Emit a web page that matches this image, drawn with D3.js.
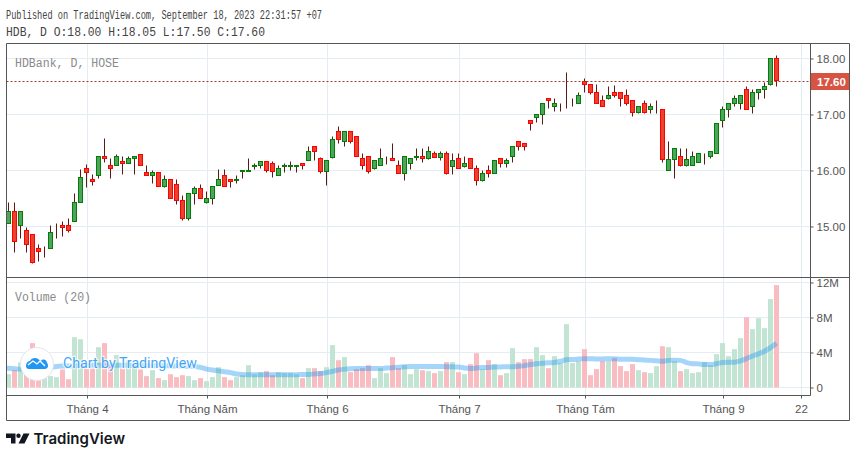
<!DOCTYPE html>
<html lang="en">
<head>
<meta charset="UTF-8">
<title>HDB, D</title>
<script src="https://d3js.org/d3.v7.min.js"></script>
<style>
  html, body { margin: 0; padding: 0; background: #fff; }
  svg { display: block; }
  .mono { font-family: "Liberation Mono", monospace; font-size: 12.5px; }
  .axis text { font-family: "Liberation Sans", Arial, sans-serif; font-size: 11.5px; fill: #555; }
  .axis line { stroke: #555; }
  .axis path { display: none; }
  .grid line { stroke: #e4edf4; }
  .frame { stroke: #555; fill: none; }
</style>
</head>
<body>
<script>

// daily candles, oldest first
var opens = [
  15.05,15.27,15.02,14.93,14.86,14.61,14.55,14.61,15.01,15.02,15.02,15.09,15.43,16.04,15.84,15.91,16.25,16.09,16.09,16.16,
  16.13,16.21,16.29,15.96,15.91,15.96,15.71,15.84,15.75,15.46,15.14,15.59,15.68,15.43,15.50,15.74,15.91,15.84,15.83,15.99,
  15.99,16.08,16.09,16.16,16.13,15.91,16.08,16.08,16.08,16.13,16.18,16.43,16.21,15.99,16.24,16.70,16.51,16.70,16.61,16.21,
  16.25,16.04,16.09,16.21,16.21,16.09,15.94,16.13,16.24,16.25,16.21,16.30,16.24,16.30,16.08,16.21,16.08,16.21,16.04,15.82,
  16.00,15.95,16.21,16.13,16.25,16.52,16.48,16.89,16.95,17.00,17.29,17.14,17.19,17.19,17.25,17.20,17.59,17.54,17.39,17.25,
  17.29,17.39,17.39,17.34,17.25,17.04,17.20,17.09,17.14,17.09,16.00,16.20,16.25,16.09,16.09,16.14,16.19,16.25,16.30,16.89,
  17.09,17.20,17.20,17.45,17.14,17.39,17.45,17.54,18.00
];
var highs = [
  15.43,15.43,15.27,14.98,14.86,14.68,14.65,15.02,15.06,15.09,15.15,15.59,16.01,16.10,15.92,16.25,16.58,16.21,16.29,16.25,
  16.25,16.25,16.29,16.09,16.00,15.96,15.91,15.84,15.84,15.55,15.59,15.71,15.75,15.63,15.71,16.01,16.01,15.84,15.91,16.00,
  16.22,16.13,16.16,16.16,16.16,16.09,16.13,16.16,16.09,16.13,16.43,16.43,16.24,16.18,16.61,16.79,16.70,16.70,16.61,16.30,
  16.25,16.18,16.40,16.25,16.49,16.18,16.25,16.21,16.39,16.39,16.43,16.34,16.34,16.34,16.30,16.30,16.25,16.21,16.09,16.00,
  16.09,16.18,16.21,16.21,16.43,16.52,16.48,16.89,17.00,17.20,17.29,17.29,17.20,17.75,17.29,17.39,17.64,17.54,17.54,17.34,
  17.50,17.51,17.39,17.45,17.25,17.14,17.25,17.20,17.25,17.09,16.51,16.39,16.39,16.39,16.34,16.30,16.30,16.34,16.84,17.14,
  17.20,17.34,17.34,17.50,17.45,17.45,17.58,18.00,18.05
];
var lows = [
  15.05,14.53,14.78,14.53,14.34,14.37,14.45,14.61,14.78,14.82,14.90,15.09,15.43,15.69,15.73,15.85,16.14,15.85,16.09,15.92,
  16.13,15.92,16.09,15.91,15.76,15.71,15.69,15.50,15.40,15.10,15.10,15.40,15.50,15.41,15.40,15.73,15.71,15.69,15.76,15.85,
  15.99,16.01,16.04,15.97,15.88,15.91,15.97,16.00,15.97,16.01,16.18,16.18,15.95,15.74,16.22,16.49,16.43,16.49,16.25,16.01,
  15.95,16.01,16.09,16.10,16.18,15.95,15.83,16.01,16.18,16.14,16.19,16.23,16.18,15.92,15.92,16.04,16.05,16.04,15.74,15.80,
  15.88,15.95,16.05,16.05,16.14,16.35,16.35,16.71,16.85,16.82,17.10,17.05,17.05,17.10,17.15,17.20,17.40,17.35,17.20,17.14,
  17.27,17.30,17.15,17.16,16.96,17.01,17.01,17.01,17.01,16.15,16.00,15.85,16.07,16.07,16.09,16.14,16.10,16.21,16.30,16.76,
  16.95,17.15,17.09,17.09,17.01,17.26,17.29,17.51,17.50
];
var closes = [
  15.27,14.73,15.27,14.68,14.36,14.55,14.55,14.89,15.02,14.98,14.93,15.43,15.88,15.96,15.80,16.25,16.21,16.04,16.25,16.13,
  16.21,16.25,16.09,15.91,15.96,15.71,15.84,15.50,15.46,15.14,15.59,15.68,15.50,15.50,15.71,15.84,15.71,15.80,15.84,16.00,
  16.00,16.09,16.16,16.00,15.99,16.04,16.09,16.09,16.09,16.09,16.34,16.34,15.99,16.18,16.55,16.55,16.70,16.52,16.25,16.09,
  15.99,16.18,16.21,16.21,16.18,15.95,16.25,16.21,16.25,16.21,16.34,16.24,16.30,15.94,16.18,16.04,16.13,16.04,15.82,15.95,
  15.95,16.18,16.13,16.18,16.43,16.43,16.43,16.84,17.00,17.20,17.25,17.20,17.20,17.20,17.25,17.34,17.54,17.39,17.20,17.14,
  17.34,17.34,17.29,17.20,17.04,17.14,17.04,17.14,17.14,16.20,16.20,16.39,16.09,16.20,16.25,16.30,16.20,16.34,16.84,17.09,
  17.20,17.29,17.34,17.09,17.39,17.45,17.50,18.00,17.60
];
// volume in millions
var volumes = [
  1.52,1.98,2.86,2.40,5.07,2.20,1.40,1.30,1.18,2.06,0.95,5.75,5.52,2.17,2.17,4.61,5.07,2.67,3.70,2.17,
  3.10,2.70,2.06,1.30,1.98,1.07,0.84,1.52,1.18,1.41,1.30,0.84,1.07,0.72,1.18,2.32,1.18,0.84,1.18,1.41,
  2.55,1.52,1.75,1.87,1.41,1.75,1.64,1.64,1.52,1.07,2.21,2.21,1.87,2.32,4.84,3.12,3.47,1.75,2.10,2.21,
  2.55,1.07,2.21,1.64,3.47,2.21,2.55,1.52,2.10,1.98,1.87,1.64,1.87,2.90,2.90,1.75,1.52,2.67,3.92,2.10,
  3.12,2.67,1.41,1.64,4.50,2.90,3.24,3.24,4.61,3.70,2.21,3.58,2.79,7.24,2.79,3.01,4.38,1.41,2.10,3.01,
  3.01,3.36,2.44,1.87,2.67,1.98,1.75,1.64,2.44,4.72,4.61,3.01,1.87,2.10,1.64,1.75,2.90,2.55,3.81,5.07,
  3.58,4.38,5.64,8.04,6.67,7.92,6.78,10.10,11.70
];
// volume average, first value belongs to the bar just left of the pane
var volumeAvg = [
  2.25,2.20,2.15,2.10,2.10,2.15,2.20,2.25,2.35,2.40,2.45,2.45,2.45,2.50,2.50,2.55,2.55,2.55,2.55,2.55,2.55,
  2.55,2.50,2.50,2.50,2.50,2.50,2.50,2.45,2.45,2.45,2.40,2.40,2.30,2.10,2.00,1.90,1.80,1.70,1.55,1.49,
  1.47,1.47,1.47,1.47,1.47,1.47,1.47,1.47,1.47,1.50,1.50,1.55,1.60,1.70,1.85,2.00,2.10,2.15,2.17,2.17,
  2.17,2.17,2.17,2.22,2.27,2.32,2.38,2.40,2.40,2.40,2.40,2.40,2.40,2.38,2.36,2.35,2.22,2.17,2.22,2.30,
  2.30,2.33,2.35,2.38,2.38,2.42,2.50,2.62,2.72,2.76,2.82,2.86,3.00,3.18,3.20,3.25,3.30,3.30,3.25,3.25,
  3.30,3.30,3.24,3.22,3.22,3.18,3.14,3.10,3.05,3.00,3.10,3.12,3.10,2.85,2.72,2.70,2.63,2.63,2.72,2.86,
  2.90,2.90,3.05,3.30,3.60,3.85,4.15,4.55,5.05
];

var priceTicks = [15, 16, 17, 18];
var volumeTicks = [0, 4, 8, 12];
var monthIdx = [13, 33, 53, 75, 96, 119, 132];
var monthLabels = ["Tháng 4", "Tháng Năm", "Tháng 6", "Tháng 7", "Tháng Tám", "Tháng 9", "22"];
var lastClose = 17.60;

var width = 856, height = 457;
var left = 6.5, right = 810.5, outerRight = 849.5, top_ = 43.5, sep = 277.5, bottom = 395.5, outerBottom = 420.5;

var x = d3.scaleLinear().domain([0, 128]).range([8.5, 776.5]);
var yPrice = d3.scaleLinear().domain([18, 15]).range([58.5, 226.5]);
var yVol = d3.scaleLinear().domain([12, 0]).range([282.5, 387.5]);
// month lines sit one pixel right of their bar
var xTick = d3.scaleOrdinal().domain(monthIdx).range(monthIdx.map(function(i) { return x(i) + 1; }));

var svg = d3.select("body").append("svg")
    .attr("width", width)
    .attr("height", height);

var defs = svg.append("defs");
defs.append("clipPath").attr("id", "pricePane").append("rect")
    .attr("x", left).attr("y", top_).attr("width", right - left).attr("height", sep - top_);
defs.append("clipPath").attr("id", "volPane").append("rect")
    .attr("x", left).attr("y", sep).attr("width", right - left).attr("height", bottom - sep);

svg.append("text").attr("class", "mono").attr("x", 6).attr("y", 19)
    .attr("textLength", 316).attr("lengthAdjust", "spacingAndGlyphs")
    .attr("fill", "#444")
    .text("Published on TradingView.com, September 18, 2023 22:31:57 +07");
svg.append("text").attr("class", "mono").attr("x", 6).attr("y", 36)
    .attr("textLength", 259).attr("lengthAdjust", "spacingAndGlyphs")
    .attr("fill", "#444")
    .text("HDB, D O:18.00 H:18.05 L:17.50 C:17.60");

// grid
var grid = svg.append("g").attr("class", "grid");
grid.selectAll(".v").data(monthIdx).enter().append("line")
    .attr("x1", function(d) { return xTick(d); }).attr("x2", function(d) { return xTick(d); })
    .attr("y1", top_).attr("y2", bottom);
grid.selectAll(".p").data(priceTicks).enter().append("line")
    .attr("x1", left).attr("x2", right)
    .attr("y1", function(d) { return yPrice(d); }).attr("y2", function(d) { return yPrice(d); });
grid.selectAll(".w").data(volumeTicks).enter().append("line")
    .attr("x1", left).attr("x2", right)
    .attr("y1", function(d) { return yVol(d); }).attr("y2", function(d) { return yVol(d); });

svg.append("text").attr("class", "mono").attr("x", 15).attr("y", 67)
    .attr("textLength", 104).attr("lengthAdjust", "spacingAndGlyphs")
    .attr("fill", "#8a8a8a").text("HDBank, D, HOSE");
svg.append("text").attr("class", "mono").attr("x", 15).attr("y", 301)
    .attr("textLength", 76).attr("lengthAdjust", "spacingAndGlyphs")
    .attr("fill", "#8a8a8a").text("Volume (20)");

// candles
var bars = d3.range(closes.length);
var crisp = function(v) { return Math.round(v - 0.5) + 0.5; };
var isUp = function(i) { return closes[i] >= opens[i]; };

var candles = svg.append("g").attr("clip-path", "url(#pricePane)")
    .selectAll("g").data(bars).enter().append("g");
candles.append("line")
    .attr("x1", function(i) { return x(i); }).attr("x2", function(i) { return x(i); })
    .attr("y1", function(i) { return crisp(yPrice(highs[i])); })
    .attr("y2", function(i) { return crisp(yPrice(lows[i])); })
    .attr("stroke", "#5b1a13");
candles.append("rect")
    .attr("x", function(i) { return x(i) - 2; })
    .attr("width", 4)
    .attr("y", function(i) { return crisp(yPrice(Math.max(opens[i], closes[i]))); })
    .attr("height", function(i) {
        return crisp(yPrice(Math.min(opens[i], closes[i]))) - crisp(yPrice(Math.max(opens[i], closes[i])));
    })
    .attr("fill", function(i) { return isUp(i) ? "#4fa35f" : "#e8432f"; })
    .attr("stroke", function(i) { return isUp(i) ? "#008000" : "#ff0000"; });

// last price line
var lastY = Math.round(yPrice(lastClose)) + 0.5;
svg.append("line")
    .attr("x1", left).attr("x2", right)
    .attr("y1", lastY).attr("y2", lastY)
    .attr("stroke", "#a03c2e").attr("stroke-dasharray", "2,2");

// volume
var volG = svg.append("g").attr("clip-path", "url(#volPane)");
volG.selectAll("rect").data(bars).enter().append("rect")
    .attr("x", function(i) { return x(i) - 2.5; })
    .attr("width", 5)
    .attr("y", function(i) { return yVol(volumes[i]); })
    .attr("height", function(i) { return yVol(0) - yVol(volumes[i]); })
    .attr("fill", function(i) { return isUp(i) ? "#c2e4d2" : "#f9bdc1"; });

var avgLine = d3.line()
    .x(function(d, i) { return x(i - 1); })
    .y(function(d) { return yVol(d); })
    .curve(d3.curveMonotoneX);
volG.append("path")
    .attr("d", avgLine(volumeAvg))
    .attr("fill", "none")
    .attr("stroke", "#2196f3")
    .attr("stroke-opacity", 0.4)
    .attr("stroke-width", 5)
    .attr("stroke-linejoin", "round");

// axes
svg.append("g").attr("class", "axis")
    .attr("transform", "translate(" + right + ",0)")
    .call(d3.axisRight(yPrice).tickValues(priceTicks).tickSize(3).tickPadding(3)
        .tickFormat(d3.format(".2f")));
svg.append("g").attr("class", "axis")
    .attr("transform", "translate(" + right + ",0)")
    .call(d3.axisRight(yVol).tickValues(volumeTicks).tickSize(3).tickPadding(3)
        .tickFormat(function(d) { return d === 0 ? "0" : d + "M"; }));
var xAxis = svg.append("g").attr("class", "axis")
    .attr("transform", "translate(0," + bottom + ")");
xAxis.selectAll("g").data(monthIdx).enter().append("g")
    .attr("transform", function(d) { return "translate(" + xTick(d) + ",0)"; })
    .each(function(d, i) {
        d3.select(this).append("line").attr("y2", 3);
        d3.select(this).append("text").attr("y", 17).attr("text-anchor", "middle").text(monthLabels[i]);
    });

// price tag
svg.append("rect")
    .attr("x", right).attr("y", lastY - 8.5)
    .attr("width", outerRight - right).attr("height", 17)
    .attr("fill", "#d75442");
svg.append("text")
    .attr("x", 817).attr("y", lastY + 4)
    .attr("font-family", "Liberation Sans, Arial, sans-serif")
    .attr("font-size", 11.5).attr("font-weight", "bold").attr("fill", "#fff")
    .text(d3.format(".2f")(lastClose));

// frame
svg.append("path").attr("class", "frame")
    .attr("d", "M" + left + "," + top_ + "H" + outerRight + "V" + outerBottom + "H" + left + "Z");
svg.append("path").attr("class", "frame")
    .attr("d", "M" + right + "," + top_ + "V" + bottom + "H" + left + "M" + left + "," + sep + "H" + outerRight);

// chart by tradingview badge
var badge = svg.append("g");
badge.append("circle").attr("cx", 37).attr("cy", 364).attr("r", 16.5)
    .attr("fill", "#fff").attr("stroke", "#e3e6ec");
badge.append("path")
    .attr("d", "M26,366 C26,362 29,361 30,361 C31,358 36,357 38,359 L41,361 C43,358 47,360 47,363 C49,365 48,369 45,369 L29,369 C27,369 26,368 26,366 Z")
    .attr("fill", "#2196f3");
badge.append("path")
    .attr("d", "M28,365 L33,361 L37,364 L40,361 L45,366")
    .attr("fill", "none").attr("stroke", "#fff").attr("stroke-width", 1.3);
badge.append("text")
    .attr("x", 63).attr("y", 368)
    .attr("textLength", 134).attr("lengthAdjust", "spacingAndGlyphs")
    .attr("font-family", "Roboto, sans-serif").attr("font-size", 14)
    .attr("fill", "#2196f3").attr("fill-opacity", 0.85).attr("stroke", "#fff").attr("stroke-width", 2.5)
    .attr("stroke-opacity", 0.7).attr("paint-order", "stroke")
    .text("Chart by TradingView");

// footer logo
var logo = svg.append("g").attr("fill", "#131722");
logo.append("path").attr("d", "M6,433.5 H15.5 V443.5 H11 V438 H6 Z");
logo.append("circle").attr("cx", 18.5).attr("cy", 435.7).attr("r", 2.2);
logo.append("path").attr("d", "M23.5,433.5 H29.5 L24.5,443.5 H18.5 Z");
svg.append("text")
    .attr("x", 33.5).attr("y", 444)
    .attr("textLength", 91.5).attr("lengthAdjust", "spacingAndGlyphs")
    .attr("font-family", "Inter, sans-serif").attr("font-size", 15).attr("font-weight", 600)
    .attr("fill", "#131722")
    .text("TradingView");

</script>
</body>
</html>
